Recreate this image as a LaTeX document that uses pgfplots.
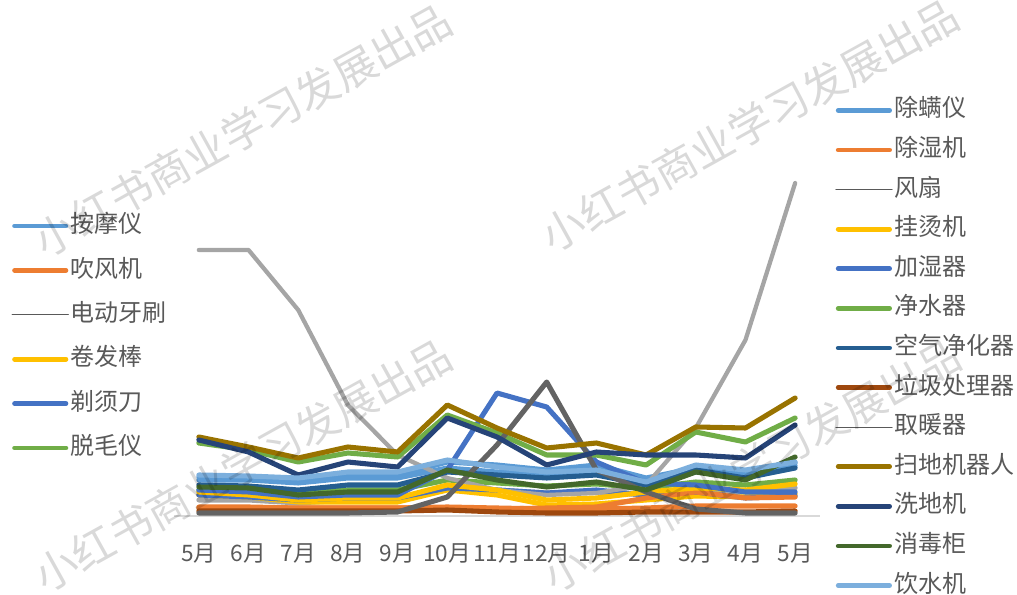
\documentclass[border=0pt]{standalone}
\usepackage{fontspec}
\setmainfont{Noto Sans CJK SC}
\usepackage{pgfplots}
\pgfplotsset{compat=1.18}
\usepackage{pgfplotstable}

\definecolor{cA}{HTML}{5B9BD5}
\definecolor{cB}{HTML}{ED7D31}
\definecolor{cC}{HTML}{A5A5A5}
\definecolor{cD}{HTML}{FFC000}
\definecolor{cE}{HTML}{4472C4}
\definecolor{cF}{HTML}{70AD47}
\definecolor{cG}{HTML}{255E91}
\definecolor{cH}{HTML}{9E480E}
\definecolor{cI}{HTML}{636363}
\definecolor{cJ}{HTML}{997300}
\definecolor{cK}{HTML}{264478}
\definecolor{cL}{HTML}{43682B}
\definecolor{cM}{HTML}{7CAFDD}
\definecolor{txtgray}{HTML}{595959}

% left chart: 按摩仪 吹风机 电动牙刷 卷发棒 剃须刀 脱毛仪
\pgfplotstableread{
x amy cfj ddys jfb txd tmy
0  36  9 16 21 21 26
1  36  9 16 19 19 26
2  33  8 13 14 16 23
3  38  8 16 14 18 26
4  38  8 16 14 18 26
5  48  9 28 26 28 36
6  44  8 26 21 26 33
7  41  7 23 11 23 30
8  44  7 24 12 26 32
9  33  8 21 16 21 28
10 44 10 26 20 24 34
11 40 10 24 19 18 31
12 50 10 28 22 20 36
}\tblA

% right chart
\pgfplotstableread{
x cmy csj fs gtj jsq jsqw kq lj qn sd xd xdg ysj
0  39  8 266 24  26  73 31 5   3  79 76 29 41
1  39  8 266 21  24  66 30 5   3  69 64 28 40
2  36  8 206 16  19  54 26 5   3  58 41 21 38
3  41  8 111 18  21  63 31 5   3  69 54 24 44
4  41  8  61 18  21  59 31 5   4  64 49 24 44
5  54  8  38 31  46 101 44 6  19 111 98 46 56
6  51  7  26 26 123  83 41 4  71  88 79 36 49
7  46  8  21 16 109  61 38 3 134  68 51 29 44
8  51  9  23 18  54  61 41 3  46  73 64 34 46
9  38 18  31 24  33  51 31 4  24  61 61 26 34
10 48 24  88 28  31  84 46 4   7  89 61 44 51
11 44 18 176 26  24  74 38 4   3  88 58 36 46
12 53 19 333 32  24  98 48 5   3 118 91 59 54
}\tblB

\pgfplotsset{
  basechart/.style={
    scale only axis, width=484.5pt, height=357pt,
    at={(130.5pt,59.25pt)}, anchor=south west,
    xmin=-0.5, xmax=12.5, ymin=0, ymax=476,
    every axis plot/.append style={line width=3.8pt, line join=round, line cap=round, mark=none},
    legend cell align=left,
    legend image code/.code={\draw[##1, line width=3.6pt, line cap=round] (0pt,0pt) -- (38.5pt,0pt);},
  },
  thinlegend/.style={legend image code/.code={\draw[txtgray, line width=0.9pt] (-1.8pt,0pt) -- (40.3pt,0pt);}},
}

\begin{document}
\begin{tikzpicture}
\begin{axis}[basechart,
  axis y line=none, axis x line*=bottom,
  x axis line style={-, draw=black!15, line width=1.2pt},
  xtick={0,...,12},
  xticklabels={5月,6月,7月,8月,9月,10月,11月,12月,1月,2月,3月,4月,5月},
  major tick length=0pt,
  xticklabel style={anchor=center, yshift=-28.5pt, text=txtgray, font=\fontsize{17pt}{18pt}\selectfont},
  legend style={draw=none, fill=none, at={(-0.258,0.644)}, anchor=north west,
    font=\fontsize{18pt}{20pt}\selectfont, text=txtgray, row sep=12.9pt,
    nodes={inner sep=1.2pt, text height=14pt, text depth=4pt}},
]
\addplot[cA] table[x=x,y=amy]{\tblA}; \addlegendentry{按摩仪}
\addplot[cB] table[x=x,y=cfj]{\tblA}; \addlegendentry{吹风机}
\addplot[cC, thinlegend] table[x=x,y=ddys]{\tblA}; \addlegendentry{电动牙刷}
\addplot[cD] table[x=x,y=jfb]{\tblA}; \addlegendentry{卷发棒}
\addplot[cE] table[x=x,y=txd]{\tblA}; \addlegendentry{剃须刀}
\addplot[cF] table[x=x,y=tmy]{\tblA}; \addlegendentry{脱毛仪}
\end{axis}

\begin{axis}[basechart, hide axis,
  legend style={draw=none, fill=none, at={(1.017,0.887)}, anchor=north west,
    font=\fontsize{18pt}{20pt}\selectfont, text=txtgray, row sep=9.3pt,
    nodes={inner sep=1.2pt, text height=14pt, text depth=4pt}},
]
\addplot[cA] table[x=x,y=cmy]{\tblB}; \addlegendentry{除螨仪}
\addplot[cB] table[x=x,y=csj]{\tblB}; \addlegendentry{除湿机}
\addplot[cC, line width=3.2pt, thinlegend] table[x=x,y=fs]{\tblB}; \addlegendentry{风扇}
\addplot[cD] table[x=x,y=gtj]{\tblB}; \addlegendentry{挂烫机}
\addplot[cE] table[x=x,y=jsq]{\tblB}; \addlegendentry{加湿器}
\addplot[cF] table[x=x,y=jsqw]{\tblB}; \addlegendentry{净水器}
\addplot[cG] table[x=x,y=kq]{\tblB}; \addlegendentry{空气净化器}
\addplot[cH] table[x=x,y=lj]{\tblB}; \addlegendentry{垃圾处理器}
\addplot[cI, thinlegend] table[x=x,y=qn]{\tblB}; \addlegendentry{取暖器}
\addplot[cJ] table[x=x,y=sd]{\tblB}; \addlegendentry{扫地机器人}
\addplot[cK] table[x=x,y=xd]{\tblB}; \addlegendentry{洗地机}
\addplot[cL] table[x=x,y=xdg]{\tblB}; \addlegendentry{消毒柜}
\addplot[cM] table[x=x,y=ysj]{\tblB}; \addlegendentry{饮水机}
\end{axis}

\begin{scope}[every node/.style={rotate=29, text=black, opacity=0.15, font=\fontsize{32pt}{32pt}\selectfont}]
\node at (182.25pt,348.75pt) {小红书商业学习发展出品};
\node at (562.5pt,352.5pt) {小红书商业学习发展出品};
\node at (182.25pt,97.5pt) {小红书商业学习发展出品};
\node at (564pt,97pt) {小红书商业学习发展出品};
\end{scope}

\pgfresetboundingbox
\path[use as bounding box] (0,0) rectangle (762.75pt,446.25pt);
\end{tikzpicture}
\end{document}
